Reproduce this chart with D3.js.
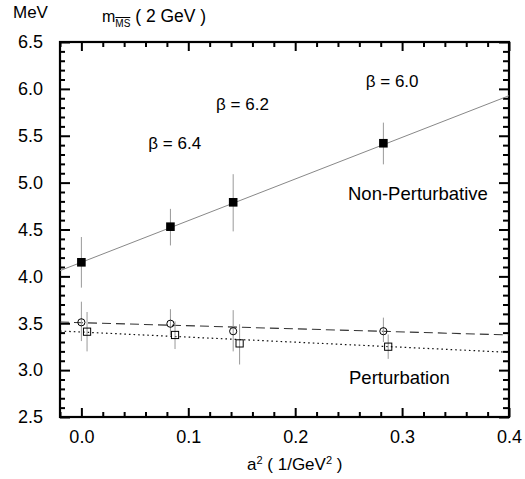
<!DOCTYPE html>
<html><head><meta charset="utf-8">
<script src="https://cdn.jsdelivr.net/npm/d3@7"></script>
<style>
body{margin:0;background:#fff;}
text{font-family:"Liberation Sans",Arial,sans-serif;fill:#000;}
</style></head>
<body><svg id="c" width="525" height="479"></svg>
<script>
// ---- data ----
const aNP = [0.0, 0.0833, 0.142, 0.2825];
const npVal = [4.15, 4.53, 4.79, 5.42];
const npLo  = [3.88, 4.33, 4.48, 5.195];
const npHi  = [4.42, 4.72, 5.09, 5.64];

const aCirc = [0.0, 0.0833, 0.142, 0.2825];
const pcVal = [3.51, 3.495, 3.415, 3.415];
const pcLo  = [3.31, 3.37, 3.20, 3.30];
const pcHi  = [3.73, 3.65, 3.64, 3.56];

const aSq = [0.0053, 0.0876, 0.148, 0.287];
const psVal = [3.41, 3.375, 3.285, 3.25];
const psLo  = [3.20, 3.225, 3.06, 3.12];
const psHi  = [3.62, 3.52, 3.49, 3.38];

const fitA = [-0.02, 0.4];
const npFit = [4.061, 5.927];
const pcFit = [3.513, 3.375];
const psFit = [3.417, 3.19];

const xMajor = [0.0, 0.1, 0.2, 0.3, 0.4];
const yMajor = [2.5, 3.0, 3.5, 4.0, 4.5, 5.0, 5.5, 6.0, 6.5];
const betaLabels = [["β = 6.0", 0.266, 6.02], ["β = 6.2", 0.126, 5.78], ["β = 6.4", 0.0626, 5.36]];

// ---- chart ----
const svg = d3.select("#c");
const L = 60, R = 509, T = 42, B = 417;
const x = d3.scaleLinear().domain([-0.02, 0.4]).range([L, R]);
const y = d3.scaleLinear().domain([2.5, 6.5]).range([B, T]);
const xMinor = d3.range(-0.02, 0.4001, 0.02).map(v => +v.toFixed(2)).filter(v => !xMajor.some(m => Math.abs(m - v) < 1e-6));
const yMinor = d3.range(2.5, 6.5001, 0.1).map(v => +v.toFixed(1)).filter(v => !yMajor.some(m => Math.abs(m - v) < 1e-6));

function styleAxis(g) {
  g.select(".domain").remove();
  g.selectAll(".tick line").attr("stroke", "#000").attr("stroke-width", 2);
  g.selectAll("text").style("font-size", "18px").attr("fill", "#000");
}
// bottom
svg.append("g").attr("transform", `translate(0,${B})`)
  .call(d3.axisBottom(x).tickValues(xMajor).tickSize(-9).tickPadding(13).tickFormat(d3.format(".1f"))).call(styleAxis);
svg.append("g").attr("transform", `translate(0,${B})`)
  .call(d3.axisBottom(x).tickValues(xMinor).tickSize(-5).tickFormat("")).call(styleAxis);
// top
svg.append("g").attr("transform", `translate(0,${T})`)
  .call(d3.axisTop(x).tickValues(xMajor).tickSize(-9).tickFormat("")).call(styleAxis);
svg.append("g").attr("transform", `translate(0,${T})`)
  .call(d3.axisTop(x).tickValues(xMinor).tickSize(-5).tickFormat("")).call(styleAxis);
// left
svg.append("g").attr("transform", `translate(${L},0)`)
  .call(d3.axisLeft(y).tickValues(yMajor).tickSize(-10).tickPadding(17).tickFormat(d3.format(".1f"))).call(styleAxis);
svg.append("g").attr("transform", `translate(${L},0)`)
  .call(d3.axisLeft(y).tickValues(yMinor).tickSize(-5).tickFormat("")).call(styleAxis);
// right
svg.append("g").attr("transform", `translate(${R},0)`)
  .call(d3.axisRight(y).tickValues(yMajor).tickSize(-10).tickFormat("")).call(styleAxis);
svg.append("g").attr("transform", `translate(${R},0)`)
  .call(d3.axisRight(y).tickValues(yMinor).tickSize(-6).tickFormat("")).call(styleAxis);
// frame
svg.append("rect").attr("x", L).attr("y", T).attr("width", R - L).attr("height", B - T)
  .attr("fill", "none").attr("stroke", "#000").attr("stroke-width", 2.2);

// fit lines
const line = d3.line().x(d => x(d[0])).y(d => y(d[1]));
svg.append("path").datum(d3.zip(fitA, npFit)).attr("d", line).attr("stroke", "#888").attr("stroke-width", 1).attr("fill", "none");
svg.append("path").datum(d3.zip(fitA, pcFit)).attr("d", line).attr("stroke", "#333").attr("stroke-width", 1.1).attr("stroke-dasharray", "9,5").attr("fill", "none");
svg.append("path").datum(d3.zip(fitA, psFit)).attr("d", line).attr("stroke", "#111").attr("stroke-width", 1.2).attr("stroke-dasharray", "1.6,3").attr("fill", "none");

// error bars
function errs(xs, lo, hi) {
  svg.append("g").selectAll("line").data(xs).join("line")
    .attr("x1", d => x(d)).attr("x2", d => x(d))
    .attr("y1", (d, i) => y(lo[i])).attr("y2", (d, i) => y(hi[i]))
    .attr("stroke", "#999").attr("stroke-width", 1);
}
errs(aNP, npLo, npHi);
errs(aCirc, pcLo, pcHi);
errs(aSq, psLo, psHi);

// markers
svg.append("g").selectAll("rect").data(aNP).join("rect")
  .attr("x", d => x(d) - 4.3).attr("y", (d, i) => y(npVal[i]) - 4.3)
  .attr("width", 8.6).attr("height", 8.6).attr("fill", "#000");
svg.append("g").selectAll("circle").data(aCirc).join("circle")
  .attr("cx", d => x(d)).attr("cy", (d, i) => y(pcVal[i])).attr("r", 3.6)
  .attr("fill", "none").attr("stroke", "#000").attr("stroke-width", 1);
svg.append("g").selectAll("rect").data(aSq).join("rect")
  .attr("x", d => x(d) - 3.6).attr("y", (d, i) => y(psVal[i]) - 3.6)
  .attr("width", 7.2).attr("height", 7.2).attr("fill", "none").attr("stroke", "#000").attr("stroke-width", 1);

// labels
svg.selectAll(".beta").data(betaLabels).join("text").attr("class", "beta")
  .attr("x", d => x(d[1])).attr("y", d => y(d[2]))
  .style("font-size", "17px").text(d => d[0]);
svg.append("text").attr("x", 348).attr("y", 200).style("font-size", "18.5px").text("Non-Perturbative");
svg.append("text").attr("x", 349).attr("y", 384).style("font-size", "18.5px").text("Perturbation");

svg.append("text").attr("x", 13).attr("y", 18).style("font-size", "17px").text("MeV");
const title = svg.append("text").attr("x", 102).attr("y", 22).style("font-size", "16px");
title.append("tspan").text("m");
title.append("tspan").attr("dy", 5).style("font-size", "10px").style("text-decoration", "overline").text("MS");
title.append("tspan").attr("dy", -5).style("font-size", "17.5px").text(" ( 2 GeV )");

const xt = svg.append("text").attr("x", 247).attr("y", 470).style("font-size", "17px");
xt.append("tspan").text("a");
xt.append("tspan").attr("dy", -6).style("font-size", "11px").text("2");
xt.append("tspan").attr("dy", 6).text(" ( 1/GeV");
xt.append("tspan").attr("dy", -6).style("font-size", "11px").text("2");
xt.append("tspan").attr("dy", 6).text(" )");
</script></body></html>
